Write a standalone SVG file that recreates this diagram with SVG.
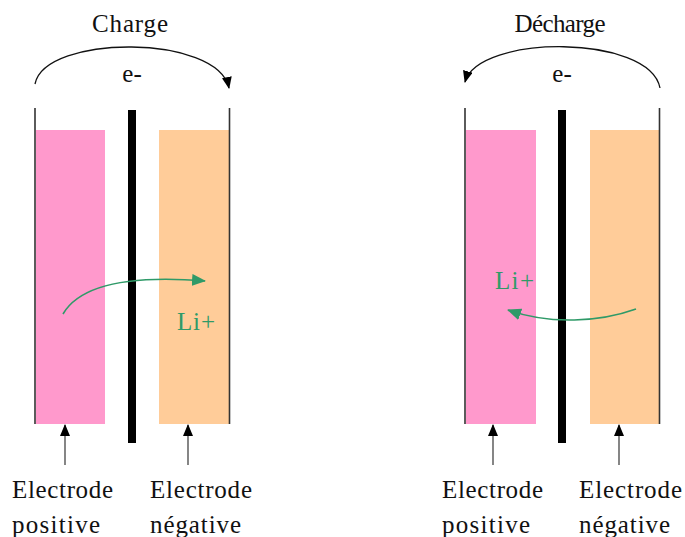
<svg xmlns="http://www.w3.org/2000/svg" width="685" height="537" viewBox="0 0 685 537">
<style>
text{font-family:"Liberation Serif","Times New Roman",serif;font-size:25px;fill:#111}
.g{fill:#2f9a68}
.wall{stroke:#333;stroke-width:1.6;fill:none}
.sep{fill:#000}
.pos{fill:#FF99CC}
.neg{fill:#FFCC99}
.e{stroke:#111;stroke-width:1.3;fill:none}
.li{stroke:#2f9a68;stroke-width:1.6;fill:none}
.ptr{stroke:#444;stroke-width:1.3}
</style>
<defs>
<marker id="ab" viewBox="0 0 12 10" refX="11" refY="5" markerWidth="12" markerHeight="10" markerUnits="userSpaceOnUse" orient="auto"><path d="M0,0 L12,5 L0,10 z" fill="#000"/></marker>
<marker id="ag" viewBox="0 0 14 12" refX="13" refY="6" markerWidth="14" markerHeight="12" markerUnits="userSpaceOnUse" orient="auto"><path d="M0,0 L14,6 L0,12 z" fill="#2f9a68"/></marker>
</defs>
<g id="cell-charge">
<rect class="pos" x="36" y="130" width="69" height="294"/>
<rect class="neg" x="159" y="130" width="70" height="294"/>
<rect class="sep" x="128" y="110" width="8" height="333"/>
<line class="wall" x1="35" y1="108" x2="35" y2="424"/>
<line class="wall" x1="229.5" y1="108" x2="229.5" y2="424"/>
</g>
<g id="cell-decharge">
<rect class="pos" x="466" y="130" width="70" height="294"/>
<rect class="neg" x="590" y="130" width="69" height="294"/>
<rect class="sep" x="558" y="110" width="8" height="333"/>
<line class="wall" x1="465" y1="108" x2="465" y2="424"/>
<line class="wall" x1="659.5" y1="108" x2="659.5" y2="424"/>
</g>
<g id="labels">
<text x="130" y="32" text-anchor="middle" textLength="76">Charge</text>
<text x="132" y="82" text-anchor="middle">e-</text>
<text x="560" y="32" text-anchor="middle" textLength="91">Décharge</text>
<text x="562" y="82" text-anchor="middle">e-</text>
<text class="g" x="177" y="330" textLength="38">Li+</text>
<text class="g" x="495" y="289" textLength="39">Li+</text>
<text x="12" y="498" textLength="101">Electrode</text>
<text x="12" y="533" textLength="88">positive</text>
<text x="150" y="498" textLength="102">Electrode</text>
<text x="150" y="533" textLength="91">négative</text>
<text x="442" y="498" textLength="101">Electrode</text>
<text x="442" y="533" textLength="88">positive</text>
<text x="579" y="498" textLength="103">Electrode</text>
<text x="579" y="533" textLength="91">négative</text>
</g>
<g id="connectors">
<path class="e" d="M35,84 C45,34 218,34 229,88" marker-end="url(#ab)"/>
<path class="e" d="M660,88 C650,34 478,34 465,82" marker-end="url(#ab)"/>
<path class="li" d="M63,314 C80,285 130,275 205,281" marker-end="url(#ag)"/>
<path class="li" d="M636,309 C600,322 550,325 508,310" marker-end="url(#ag)"/>
<line class="ptr" x1="65" y1="465" x2="65" y2="425" marker-end="url(#ab)"/>
<line class="ptr" x1="188" y1="465" x2="188" y2="425" marker-end="url(#ab)"/>
<line class="ptr" x1="493" y1="465" x2="493" y2="425" marker-end="url(#ab)"/>
<line class="ptr" x1="619" y1="465" x2="619" y2="425" marker-end="url(#ab)"/>
</g>
</svg>
